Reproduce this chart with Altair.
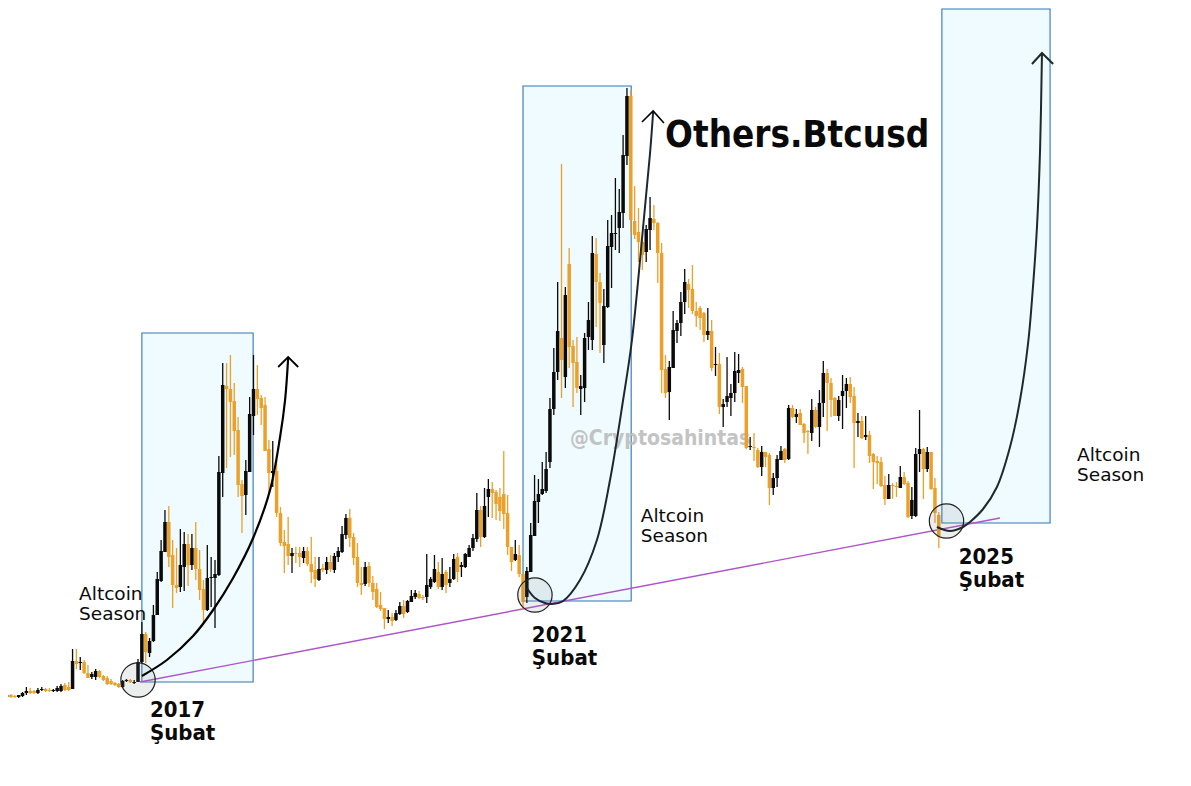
import altair as alt
import pandas as pd

# candle colour: K = black (up), O = orange (down); first bar is index -36
first_bar = -36
sides = list(
    "OOKOOKKKOO" "KKOOKKKOOK" "OKOOKKOOOO" "OOKKOKKKOK"
    "KKKKOOOKKO" "KOOOKKKKKO" "OOOOKKKOOO" "OKOOOOKOOK"
    "OOOKOKOKKK" "KOOOOKOOOO" "OKOKKOKKKO" "OKKKOKOKKO"
    "KKKKKOKKOO" "OOOOKOOKKK" "KKKKKKOKOO" "OKKKKOOKKK"
    "KKKKOOOOKK" "OOOOKKKKKO" "OOOOKOKOKK" "KKKOOKOOKO"
    "OKKKOKOKOO" "OKOKKOOOKK" "KOOKOKOOOO" "OKOOKOOKKK"
    "OKOOO"
)
highs = [
    690, 692, 695, 694, 695, 695, 692, 687, 688, 690,
    688, 687, 688, 688, 689, 686, 684, 683, 682, 649,
    649, 657, 660, 665, 672, 669, 670, 675, 676, 679,
    682, 683, 680, 679, 679, 680, 659, 622, 632, 638,
    605, 572, 540, 510, 506, 540, 548, 529, 532, 534,
    534, 522, 550, 580, 545, 557, 560, 456, 363, 363,
    355, 383, 417, 480, 460, 397, 355, 365, 395, 397,
    440, 441, 460, 507, 530, 517, 548, 547, 547, 547,
    547, 537, 557, 557, 564, 557, 555, 553, 547, 526,
    514, 509, 533, 543, 567, 562, 562, 576, 583, 592,
    608, 610, 613, 610, 602, 600, 600, 590, 590, 591,
    595, 554, 577, 555, 562, 558, 570, 567, 554, 553,
    562, 553, 545, 534, 493, 506, 488, 479, 482, 490,
    488, 451, 495, 547, 540, 545, 573, 567, 523, 475,
    479, 462, 452, 398, 348, 282, 164, 287, 248, 340,
    337, 375, 333, 302, 236, 238, 273, 289, 220, 215,
    178, 189, 135, 88, 90, 186, 208, 240, 225, 197,
    205, 222, 243, 355, 361, 311, 320, 292, 269, 279,
    265, 302, 306, 312, 308, 320, 347, 353, 399, 357,
    384, 352, 354, 367, 386, 437, 433, 448, 446, 452,
    453, 473, 455, 446, 448, 405, 405, 409, 409, 423,
    430, 399, 407, 390, 361, 369, 378, 397, 396, 375,
    378, 377, 387, 413, 416, 416, 431, 453, 456, 457,
    476, 474, 483, 482, 466, 472, 481, 487, 448, 410,
    448, 447, 452, 478, 512,
]
body_tops = [
    691, 693, 695.5, 695, 696, 695, 693, 691, 691, 691,
    690, 689, 689, 690, 690, 688, 686, 685, 687, 661,
    661, 662, 662, 673, 674, 671, 671, 676, 678, 681,
    683, 684, 681, 680, 680, 682, 662, 634, 634, 641,
    615, 579, 551, 522, 522, 555, 585, 565, 544, 544,
    548, 548, 569, 589, 578, 577, 574, 472, 385, 386,
    389, 401, 430, 484, 471, 414, 389, 389, 398, 405,
    449, 471, 471, 513, 542, 544, 553, 553, 553, 551,
    551, 564, 570, 569, 568, 562, 562, 556, 551, 534,
    518, 518, 537, 557, 583, 567, 566, 583, 589, 605,
    608, 617, 617, 613, 606, 606, 601, 596, 593, 594,
    597, 585, 579, 569, 572, 574, 572, 579, 559, 557,
    565, 554, 548, 538, 510, 510, 506, 489, 489, 492,
    497, 494, 513, 547, 554, 555, 574, 571, 535, 501,
    494, 489, 469, 409, 372, 331, 338, 295, 264, 346,
    362, 386, 338, 320, 253, 254, 282, 306, 246, 233,
    233, 212, 155, 96, 96, 221, 232, 242, 229, 218,
    219, 223, 253, 369, 367, 330, 323, 302, 282, 284,
    289, 311, 308, 313, 331, 331, 364, 364, 404, 396,
    393, 371, 370, 369, 386, 446, 447, 450, 452, 452,
    455, 478, 459, 451, 449, 408, 408, 414, 413, 424,
    431, 410, 410, 403, 373, 373, 383, 398, 400, 391,
    384, 384, 396, 421, 421, 435, 435, 454, 461, 462,
    485, 485, 485, 486, 477, 477, 483, 500, 454, 449,
    449, 452, 452, 488, 515,
]
body_bottoms = [
    695, 696, 696.5, 697, 697, 697, 696, 693, 693, 693,
    693, 690, 691, 691, 691, 691, 691, 690, 690, 689,
    664, 663, 673, 678, 677, 677, 677, 680, 684, 684,
    685, 687, 687, 681, 682, 683, 682, 662, 652, 653,
    641, 615, 581, 552, 557, 585, 588, 587, 567, 565,
    565, 569, 590, 610, 610, 578, 578, 575, 473, 389,
    402, 431, 485, 496, 495, 472, 416, 399, 408, 451,
    473, 473, 513, 543, 546, 556, 556, 554, 557, 558,
    564, 572, 579, 580, 570, 570, 569, 570, 557, 552,
    535, 538, 558, 583, 585, 584, 583, 592, 607, 609,
    619, 619, 621, 620, 614, 614, 612, 602, 597, 598,
    598, 597, 587, 582, 587, 587, 585, 583, 579, 572,
    567, 567, 557, 548, 539, 537, 537, 497, 493, 504,
    511, 514, 547, 562, 560, 574, 602, 597, 572, 536,
    502, 494, 491, 462, 409, 372, 360, 377, 347, 363,
    388, 389, 388, 337, 340, 282, 303, 345, 307, 247,
    234, 228, 213, 156, 220, 235, 242, 255, 252, 230,
    223, 253, 370, 393, 392, 368, 331, 323, 302, 290,
    311, 316, 318, 335, 335, 368, 365, 407, 407, 402,
    398, 393, 373, 387, 448, 447, 448, 467, 467, 457,
    488, 488, 478, 460, 460, 459, 417, 417, 425, 433,
    432, 433, 427, 427, 403, 383, 400, 416, 416, 396,
    391, 397, 423, 423, 438, 437, 456, 462, 463, 486,
    499, 499, 486, 487, 488, 484, 517, 516, 516, 454,
    469, 469, 489, 513, 537,
]
lows = [
    696, 697, 697, 698, 698, 698, 697, 695, 694, 694,
    694, 691, 692, 692, 692, 692, 692, 691, 691, 689,
    669, 670, 674, 678, 679, 680, 678, 681, 685, 685,
    686, 688, 688, 682, 683, 684, 682, 663, 663, 657,
    642, 615, 582, 552, 567, 608, 593, 592, 591, 586,
    570, 580, 600, 623, 611, 607, 628, 576, 497, 468,
    457, 455, 497, 533, 515, 472, 435, 415, 425, 451,
    493, 487, 517, 546, 573, 565, 573, 563, 567, 563,
    566, 583, 587, 581, 572, 574, 572, 573, 562, 553,
    539, 547, 565, 587, 595, 586, 587, 600, 608, 611,
    629, 623, 626, 621, 615, 618, 613, 602, 599, 599,
    600, 603, 589, 583, 589, 590, 593, 587, 580, 582,
    577, 568, 557, 551, 542, 547, 538, 517, 518, 520,
    521, 529, 555, 571, 561, 577, 610, 603, 572, 536,
    523, 495, 493, 468, 415, 380, 398, 388, 368, 407,
    393, 415, 402, 350, 350, 327, 353, 363, 308, 288,
    250, 253, 228, 165, 233, 239, 262, 270, 262, 250,
    230, 283, 393, 398, 420, 368, 343, 336, 314, 308,
    314, 327, 330, 342, 340, 371, 376, 414, 427, 407,
    416, 402, 383, 403, 449, 450, 461, 468, 476, 467,
    505, 495, 487, 460, 463, 460, 418, 423, 425, 443,
    454, 441, 428, 447, 417, 431, 417, 416, 421, 429,
    408, 403, 468, 437, 439, 440, 463, 489, 484, 487,
    505, 499, 499, 497, 488, 485, 518, 519, 517, 472,
    499, 472, 490, 523, 548,
]

# season boxes
box_start = [1.0, 100.0, 208.8]
box_end = [29.9, 128.1, 236.9]
box_top = [333, 86, 9]
box_bottom = [682, 601, 523]

# rising support line
trend_x = [0.5, 223.9]
trend_y = [682, 518]

# circles on the three lows
ring_x = [0.0, 103.1, 210.0]
ring_y = [680, 595, 521]

# exponential arrows
curve1_x = [1.0, 7.5, 14.3, 19.5, 24.7, 29.9, 34.3, 36.9, 38.2, 39.0]
curve1_y = [676, 660, 636, 610, 578, 538, 490, 437, 400, 358]
curve2_x = [101.0, 103.1, 105.7, 107.5, 110.4, 114.8, 119.2, 122.6, 126.0, 128.3, 131.2, 133.0, 133.8]
curve2_y = [588, 598, 603, 604, 601, 580, 540, 480, 400, 340, 227, 153, 112]
curve3_x = [207.5, 210.9, 214.3, 216.1, 219.5, 223.1, 226.5, 229.1, 231.2, 232.2, 233.5, 234.3, 234.8]
curve3_y = [527, 531, 527, 522, 509, 487, 447, 400, 343, 300, 227, 150, 53]
head1_x, head1_y = [36.4, 39.0, 41.6], [367, 357, 367]
head2_x, head2_y = [130.9, 133.8, 136.6], [122, 111, 123]
head3_x, head3_y = [232.2, 234.8, 237.7], [64, 53, 64]

# text
season_text = ["Altcoin", "Season", "Altcoin", "Season", "Altcoin", "Season"]
season_x = [-15.3, -15.3, 130.6, 130.6, 243.9, 243.9]
season_y = [600, 620, 522, 542, 461, 481]
date_text = ["2017", "Şubat", "2021", "Şubat", "2025", "Şubat"]
date_x = [3.1, 3.1, 102.3, 102.3, 213.2, 213.2]
date_y = [717, 740, 642, 665, 564, 587]

ORANGE = "#eba02a"
BLACK = "#0a0a0a"
FONT = "DejaVu Sans"
FONT_NARROW = "DejaVu Sans Condensed"

x_scale = alt.Scale(domain=[-33.77, 271.43], nice=False, zero=False)
y_scale = alt.Scale(domain=[778, 8], nice=False, zero=False)
X = alt.X("x:Q", scale=x_scale, axis=None)
Y = alt.Y("y:Q", scale=y_scale, axis=None)

candles = pd.DataFrame({
    "x": range(first_bar, first_bar + len(sides)),
    "side": sides,
    "high": highs,
    "top": body_tops,
    "bottom": body_bottoms,
    "low": lows,
})
side_color = alt.Color("side:N", scale=alt.Scale(domain=["K", "O"], range=[BLACK, ORANGE]), legend=None)

boxes = alt.Chart(pd.DataFrame({
    "x": box_start, "x2": box_end, "y": box_top, "y2": box_bottom,
})).mark_rect(fill="#effbfe", stroke="#3276b6", strokeWidth=1.1).encode(x=X, x2="x2:Q", y=Y, y2="y2:Q")

trend = alt.Chart(pd.DataFrame({"x": trend_x, "y": trend_y})).mark_line(
    color="#ad55c8", strokeWidth=1.4
).encode(x=X, y=Y)

watermark = alt.Chart(pd.DataFrame({"x": [112.2], "y": [445], "t": ["@Cryptosahintas"]})).mark_text(
    align="left", baseline="alphabetic", font=FONT_NARROW, fontSize=21, fontWeight="bold",
    color="#bdbdbd", opacity=0.9
).encode(x=X, y=Y, text="t:N")

wicks = alt.Chart(candles).mark_rule(strokeWidth=1.3).encode(
    x=alt.X("x:Q", scale=x_scale, axis=None),
    y=alt.Y("high:Q", scale=y_scale, axis=None),
    y2="low:Q",
    color=side_color,
)
bodies = alt.Chart(candles).mark_rule(strokeWidth=3.5).encode(
    x=alt.X("x:Q", scale=x_scale, axis=None),
    y=alt.Y("top:Q", scale=y_scale, axis=None),
    y2="bottom:Q",
    color=side_color,
)

rings = alt.Chart(pd.DataFrame({"x": ring_x, "y": ring_y})).mark_point(
    shape="circle", size=1180, fill="#6f7f7f", fillOpacity=0.13, stroke="#222222", strokeWidth=1.2, opacity=1
).encode(x=X, y=Y)


def arrow(xs, ys, color, width, interpolate):
    return alt.Chart(pd.DataFrame({"x": xs, "y": ys})).mark_line(
        color=color, strokeWidth=width, interpolate=interpolate
    ).encode(x=X, y=Y, order=alt.Order("x:Q"))


arrows = [
    arrow(curve1_x, curve1_y, "#000000", 2.2, "catmull-rom"),
    arrow(head1_x, head1_y, "#000000", 1.8, "linear"),
    arrow(curve2_x, curve2_y, "#1c2733", 2, "catmull-rom"),
    arrow(head2_x, head2_y, "#000000", 1.6, "linear"),
    arrow(curve3_x, curve3_y, "#1c2a2a", 2, "catmull-rom"),
    arrow(head3_x, head3_y, "#1c2a2a", 2, "linear"),
]


def labels(texts, xs, ys, size, weight, font):
    return alt.Chart(pd.DataFrame({"x": xs, "y": ys, "t": texts})).mark_text(
        align="left", baseline="alphabetic", font=font, fontSize=size, fontWeight=weight, color="#0a0a0a"
    ).encode(x=X, y=Y, text="t:N")


season_labels = labels(season_text, season_x, season_y, 18.5, "normal", FONT)
date_labels = labels(date_text, date_x, date_y, 22, "bold", FONT_NARROW)
title_label = labels(["Others.Btcusd"], [136.9], [147], 36.5, "bold", FONT_NARROW)

chart = alt.layer(
    boxes, trend, watermark, wicks, bodies, rings, *arrows,
    season_labels, date_labels, title_label,
).properties(
    width=1175, height=770, padding=0,
    autosize=alt.AutoSizeParams(type="none"),
).configure_view(stroke=None)

chart.save("out.html", embed_options={"renderer": "svg", "actions": False})
